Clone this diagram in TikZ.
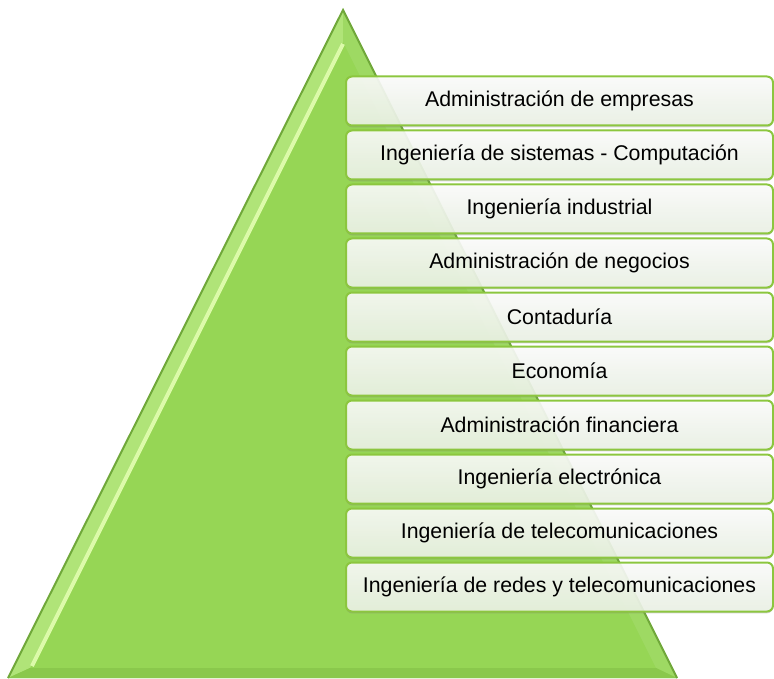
\documentclass[tikz,border=0pt]{standalone}
\usepackage{fontspec}
\setmainfont{Liberation Sans}
\usetikzlibrary{shadows}

\definecolor{pyrgreen}{RGB}{150,214,85}
\definecolor{pyrdark}{RGB}{112,168,58}
\definecolor{pyrlight}{RGB}{176,228,120}
\definecolor{pyrshine}{RGB}{220,250,170}
\definecolor{pyrbase}{RGB}{138,200,76}
\definecolor{boxgreen}{RGB}{140,198,63}
\definecolor{boxtint}{RGB}{238,245,232}

\begin{document}
\begin{tikzpicture}[x=0.5pt, y=-0.5pt,
    career/.style={draw=boxgreen, line width=1pt, rounded corners=3pt,
        top color=white, bottom color=boxtint, fill opacity=0.88, text opacity=1,
        drop shadow={shadow xshift=0pt, shadow yshift=-0.9pt, opacity=0.35},
        minimum width=213.5pt, minimum height=24.5pt, inner sep=0pt,
        font=\fontsize{10.65}{12.8}\selectfont}]

\useasboundingbox (0, 0) rectangle (774, 678);

% pyramid with bevel
\fill[pyrgreen] (343, 10) -- (677, 678) -- (8, 678) -- cycle;
\fill[pyrlight] (343, 10) -- (343, 42) -- (30, 668) -- (8, 678) -- cycle;
\fill[pyrgreen!92!white] (343, 10) -- (677, 678) -- (656, 668) -- (343, 42) -- cycle;
\fill[pyrbase] (8, 678) -- (30, 668) -- (656, 668) -- (677, 678) -- cycle;
\draw[pyrshine, line width=2pt] (343, 44) -- (32, 666);
\draw[pyrdark, line width=1pt] (8, 678) -- (343, 10) -- (677, 678);

% careers
\node[career] (0) at (559.5, 101) {Administración de empresas};
\node[career] (1) at (559.5, 155) {Ingeniería de sistemas - Computación};
\node[career] (2) at (559.5, 209) {Ingeniería industrial};
\node[career] (3) at (559.5, 263) {Administración de negocios};
\node[career] (4) at (559.5, 317) {Contaduría};
\node[career] (5) at (559.5, 371) {Economía};
\node[career] (6) at (559.5, 425) {Administración financiera};
\node[career] (7) at (559.5, 479) {Ingeniería electrónica};
\node[career] (8) at (559.5, 533) {Ingeniería de telecomunicaciones};
\node[career] (9) at (559.5, 587) {Ingeniería de redes y telecomunicaciones};
\end{tikzpicture}
\end{document}
